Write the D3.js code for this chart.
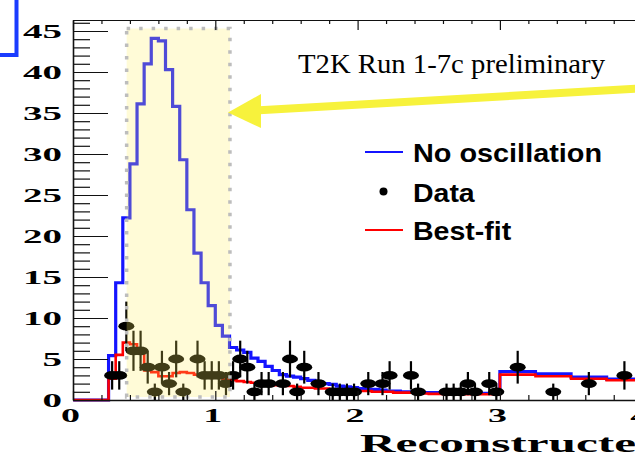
<!DOCTYPE html>
<html><head><meta charset="utf-8">
<script src="https://cdn.jsdelivr.net/npm/d3@7"></script>
<style>html,body{margin:0;padding:0;background:#fff;overflow:hidden}</style>
</head><body><svg id="c" width="635" height="456" xmlns="http://www.w3.org/2000/svg"></svg>
<script>
// ---------- data ----------
const binEdges = [0,0.05,0.1,0.15,0.2,0.25,0.3,0.35,0.4,0.45,0.5,0.55,0.6,0.65,0.7,0.75,0.8,0.85,0.9,0.95,
  1.0,1.05,1.1,1.15,1.2,1.25,1.3,1.35,1.4,1.45,1.5,1.55,1.6,1.65,1.7,1.75,1.8,1.85,1.9,1.95,
  2.0,2.05,2.1,2.15,2.2,2.25,2.3,2.35,2.4,2.45,2.5,2.55,2.6,2.65,2.7,2.75,2.8,2.85,2.9,2.95,
  3.0,3.25,3.5,3.75,4.0];
const noOscillation = [0,0,0,0,0,5.4,14.3,22.2,28.8,36.1,41.0,44.1,43.8,40.3,35.8,29.3,23.2,17.9,14.3,11.5,
  9.1,7.8,6.4,6.1,5.8,5.1,4.7,4.1,3.6,3.1,2.9,2.8,2.6,2.4,2.2,2.0,1.9,1.7,1.6,1.5,
  1.4,1.3,1.3,1.2,1.1,1.1,1.0,1.0,1.0,0.9,0.9,0.9,0.9,0.85,0.85,0.8,0.8,0.8,0.8,0.8,
  3.45,3.2,2.8,2.55];
const bestFit = [0,0,0,0,0,2.6,5.5,7.0,6.8,6.0,3.6,3.4,2.9,2.9,3.3,3.4,3.3,3.1,3.0,3.0,
  2.8,2.6,2.4,2.3,2.2,2.1,2.0,1.9,1.8,1.8,1.7,1.6,1.5,1.5,1.4,1.4,1.3,1.3,1.2,1.2,
  1.1,1.1,1.0,1.0,1.0,0.9,0.9,0.9,0.8,0.8,0.75,0.75,0.7,0.7,0.7,0.7,0.7,0.7,0.7,0.7,
  3.1,2.9,2.6,2.4];
const dataE = [0.275,0.325,0.375,0.425,0.475,0.525,0.575,0.625,0.675,0.725,0.775,0.875,0.925,0.975,1.025,1.075,
  1.125,1.175,1.225,1.275,1.325,1.375,1.475,1.525,1.575,1.625,1.725,1.825,1.875,1.925,1.975,
  2.075,2.175,2.225,2.375,2.425,2.625,2.675,2.725,2.775,2.825,2.925,2.975,3.125,3.375,3.625,3.875];
const dataN = [3,3,9,6,6,4,1,4,2,5,1,5,3,3,3,2,
  3,5,4,1,2,2,2,5,1,4,2,1,1,1,1,
  2,2,3,3,1,1,1,1,2,1,2,1,4,1,2,3];
const yMajorTicks = [0,5,10,15,20,25,30,35,40,45];
const yMinorTicks = [1,2,3,4,6,7,8,9,11,12,13,14,16,17,18,19,21,22,23,24,26,27,28,29,31,32,33,34,36,37,38,39,41,42,43,44,46];
const xMajorTicks = [0,1,2,3,4];
const xMinorTicks = [0.2,0.4,0.6,0.8,1.2,1.4,1.6,1.8,2.2,2.4,2.6,2.8,3.2,3.4,3.6,3.8];
const legendLabels = ["No oscillation","Data","Best-fit"];
const highlightE = [0.377, 1.103];
const highlightY = [0.37, 45.3];
const annotation = "T2K Run 1-7c preliminary";
const xTitle = "Reconstructed neutrino energy (GeV)";

// ---------- layout ----------
const svg = d3.select("#c");
const x = d3.scaleLinear().domain([0,4]).range([73, 642.2]);
const y = d3.scaleLinear().domain([0,46.34]).range([400, 20]);
const BLUE = "#1414ff", RED = "#ff0000";

// histograms
function histPoints(vals){
  const pts = vals.map((v,i)=>[binEdges[i], v]);
  pts.push([binEdges[binEdges.length-1], vals[vals.length-1]]);
  return pts;
}
const stepLine = d3.line().x(d=>x(d[0])).y(d=>y(d[1])).curve(d3.curveStepAfter);
svg.append("path").attr("d", stepLine(histPoints(noOscillation)))
  .attr("fill","none").attr("stroke",BLUE).attr("stroke-width",3.2);
svg.append("path").attr("d", stepLine(histPoints(bestFit)))
  .attr("fill","none").attr("stroke",RED).attr("stroke-width",2.6);

// data points
const pts = svg.append("g");
dataE.forEach((e,i)=>{
  const n = dataN[i], err = Math.sqrt(n);
  pts.append("line").attr("x1",x(e)).attr("x2",x(e)).attr("y1",y(n+err)).attr("y2",y(Math.max(0,n-err)))
    .attr("stroke","#000").attr("stroke-width",2.2);
});
dataE.forEach((e,i)=>{
  pts.append("ellipse").attr("cx",x(e)).attr("cy",y(dataN[i])).attr("rx",8).attr("ry",4.4).attr("fill","#000");
});

// highlight box (semi-transparent overlay)
svg.append("rect")
  .attr("x",x(highlightE[0])).attr("y",y(highlightY[1]))
  .attr("width",x(highlightE[1])-x(highlightE[0])).attr("height",y(highlightY[0])-y(highlightY[1]))
  .attr("fill","#fff060").attr("fill-opacity",0.25)
  .attr("stroke","#bdbdbd").attr("stroke-width",3.5).attr("stroke-dasharray","3.5,9");

// axes
function styleAxis(g){
  g.selectAll("line").attr("stroke","#111").attr("stroke-width",1.2);
  g.select(".domain").attr("stroke","#111").attr("stroke-width",1.6);
  g.attr("font-family","'Liberation Serif','Times New Roman',serif").attr("font-size",19)
   .attr("font-weight","bold").attr("fill","#000");
}
const yAx = svg.append("g").attr("transform","translate(73,0)")
  .call(d3.axisLeft(y).tickValues(yMajorTicks).tickSize(-35).tickSizeOuter(0).tickFormat(d3.format("d")));
styleAxis(yAx);
yAx.selectAll("text").attr("x",null).attr("text-anchor","end").attr("fill","#000")
  .attr("transform","translate(-11,0) scale(2.05,1)");
const yMin = svg.append("g").attr("transform","translate(73,0)")
  .call(d3.axisLeft(y).tickValues(yMinorTicks).tickSize(-17).tickFormat(""));
yMin.select(".domain").remove(); styleAxis(yMin);

const xAx = svg.append("g").attr("transform","translate(0,400)")
  .call(d3.axisBottom(x).tickValues(xMajorTicks).tickSize(-9).tickSizeOuter(0).tickFormat(d3.format("d")));
styleAxis(xAx);
xAx.selectAll("text").attr("y",null).attr("dy",null).attr("fill","#000")
  .attr("transform","translate(-3,22) scale(2.0,1)");
const xMin = svg.append("g").attr("transform","translate(0,400)")
  .call(d3.axisBottom(x).tickValues(xMinorTicks).tickSize(-5).tickFormat(""));
xMin.select(".domain").remove(); styleAxis(xMin);

const xTop = svg.append("g").attr("transform","translate(0,20)")
  .call(d3.axisTop(x).tickValues(xMajorTicks).tickSize(-10).tickSizeOuter(0).tickFormat(""));
styleAxis(xTop); xTop.select(".domain").attr("stroke-width",1.2);
const xTopMin = svg.append("g").attr("transform","translate(0,20)")
  .call(d3.axisTop(x).tickValues(xMinorTicks).tickSize(-4).tickFormat(""));
xTopMin.select(".domain").remove(); styleAxis(xTopMin);

// x axis title
svg.append("text").text(xTitle)
  .attr("transform","translate(360,452) scale(1.93,1)")
  .attr("font-family","'Liberation Serif','Times New Roman',serif").attr("font-weight","bold")
  .attr("font-size",25.5).attr("fill","#000");

// annotation text
svg.append("text").text(annotation).attr("x",298).attr("y",73.3)
  .attr("textLength",307).attr("lengthAdjust","spacingAndGlyphs")
  .attr("font-family","'Liberation Serif','Times New Roman',serif").attr("font-size",26.5).attr("fill","#000");

// yellow arrow
const ARROW = "#f7f23c";
svg.append("line").attr("x1",640).attr("y1",88.5).attr("x2",255).attr("y2",110.5)
  .attr("stroke",ARROW).attr("stroke-width",8);
svg.append("path").attr("d","M228,112.5 L261,94 L261,128 Z").attr("fill",ARROW);

// legend
const lg = svg.append("g").attr("font-family","'Liberation Sans',Arial,Helvetica,sans-serif")
  .attr("font-weight","bold").attr("font-size",25).attr("fill","#000");
const legendY = [161.7, 201.7, 240];
const legendW = [189, 61.7, 98.3];
lg.append("line").attr("x1",365).attr("x2",403).attr("y1",152).attr("y2",152).attr("stroke",BLUE).attr("stroke-width",2.2);
lg.append("circle").attr("cx",383.5).attr("cy",191.5).attr("r",4).attr("fill","#000");
lg.append("line").attr("x1",365).attr("x2",403).attr("y1",230).attr("y2",230).attr("stroke",RED).attr("stroke-width",2.2);
legendLabels.forEach((t,i)=>{
  lg.append("text").text(t).attr("x",413).attr("y",legendY[i])
    .attr("textLength",legendW[i]).attr("lengthAdjust","spacingAndGlyphs");
});

// partial blue bracket at top-left (cropped element of original slide)
svg.append("path").attr("d","M0,55 L16.5,55 L16.5,0").attr("fill","none").attr("stroke","#1a3cff").attr("stroke-width",4);
</script></body></html>
